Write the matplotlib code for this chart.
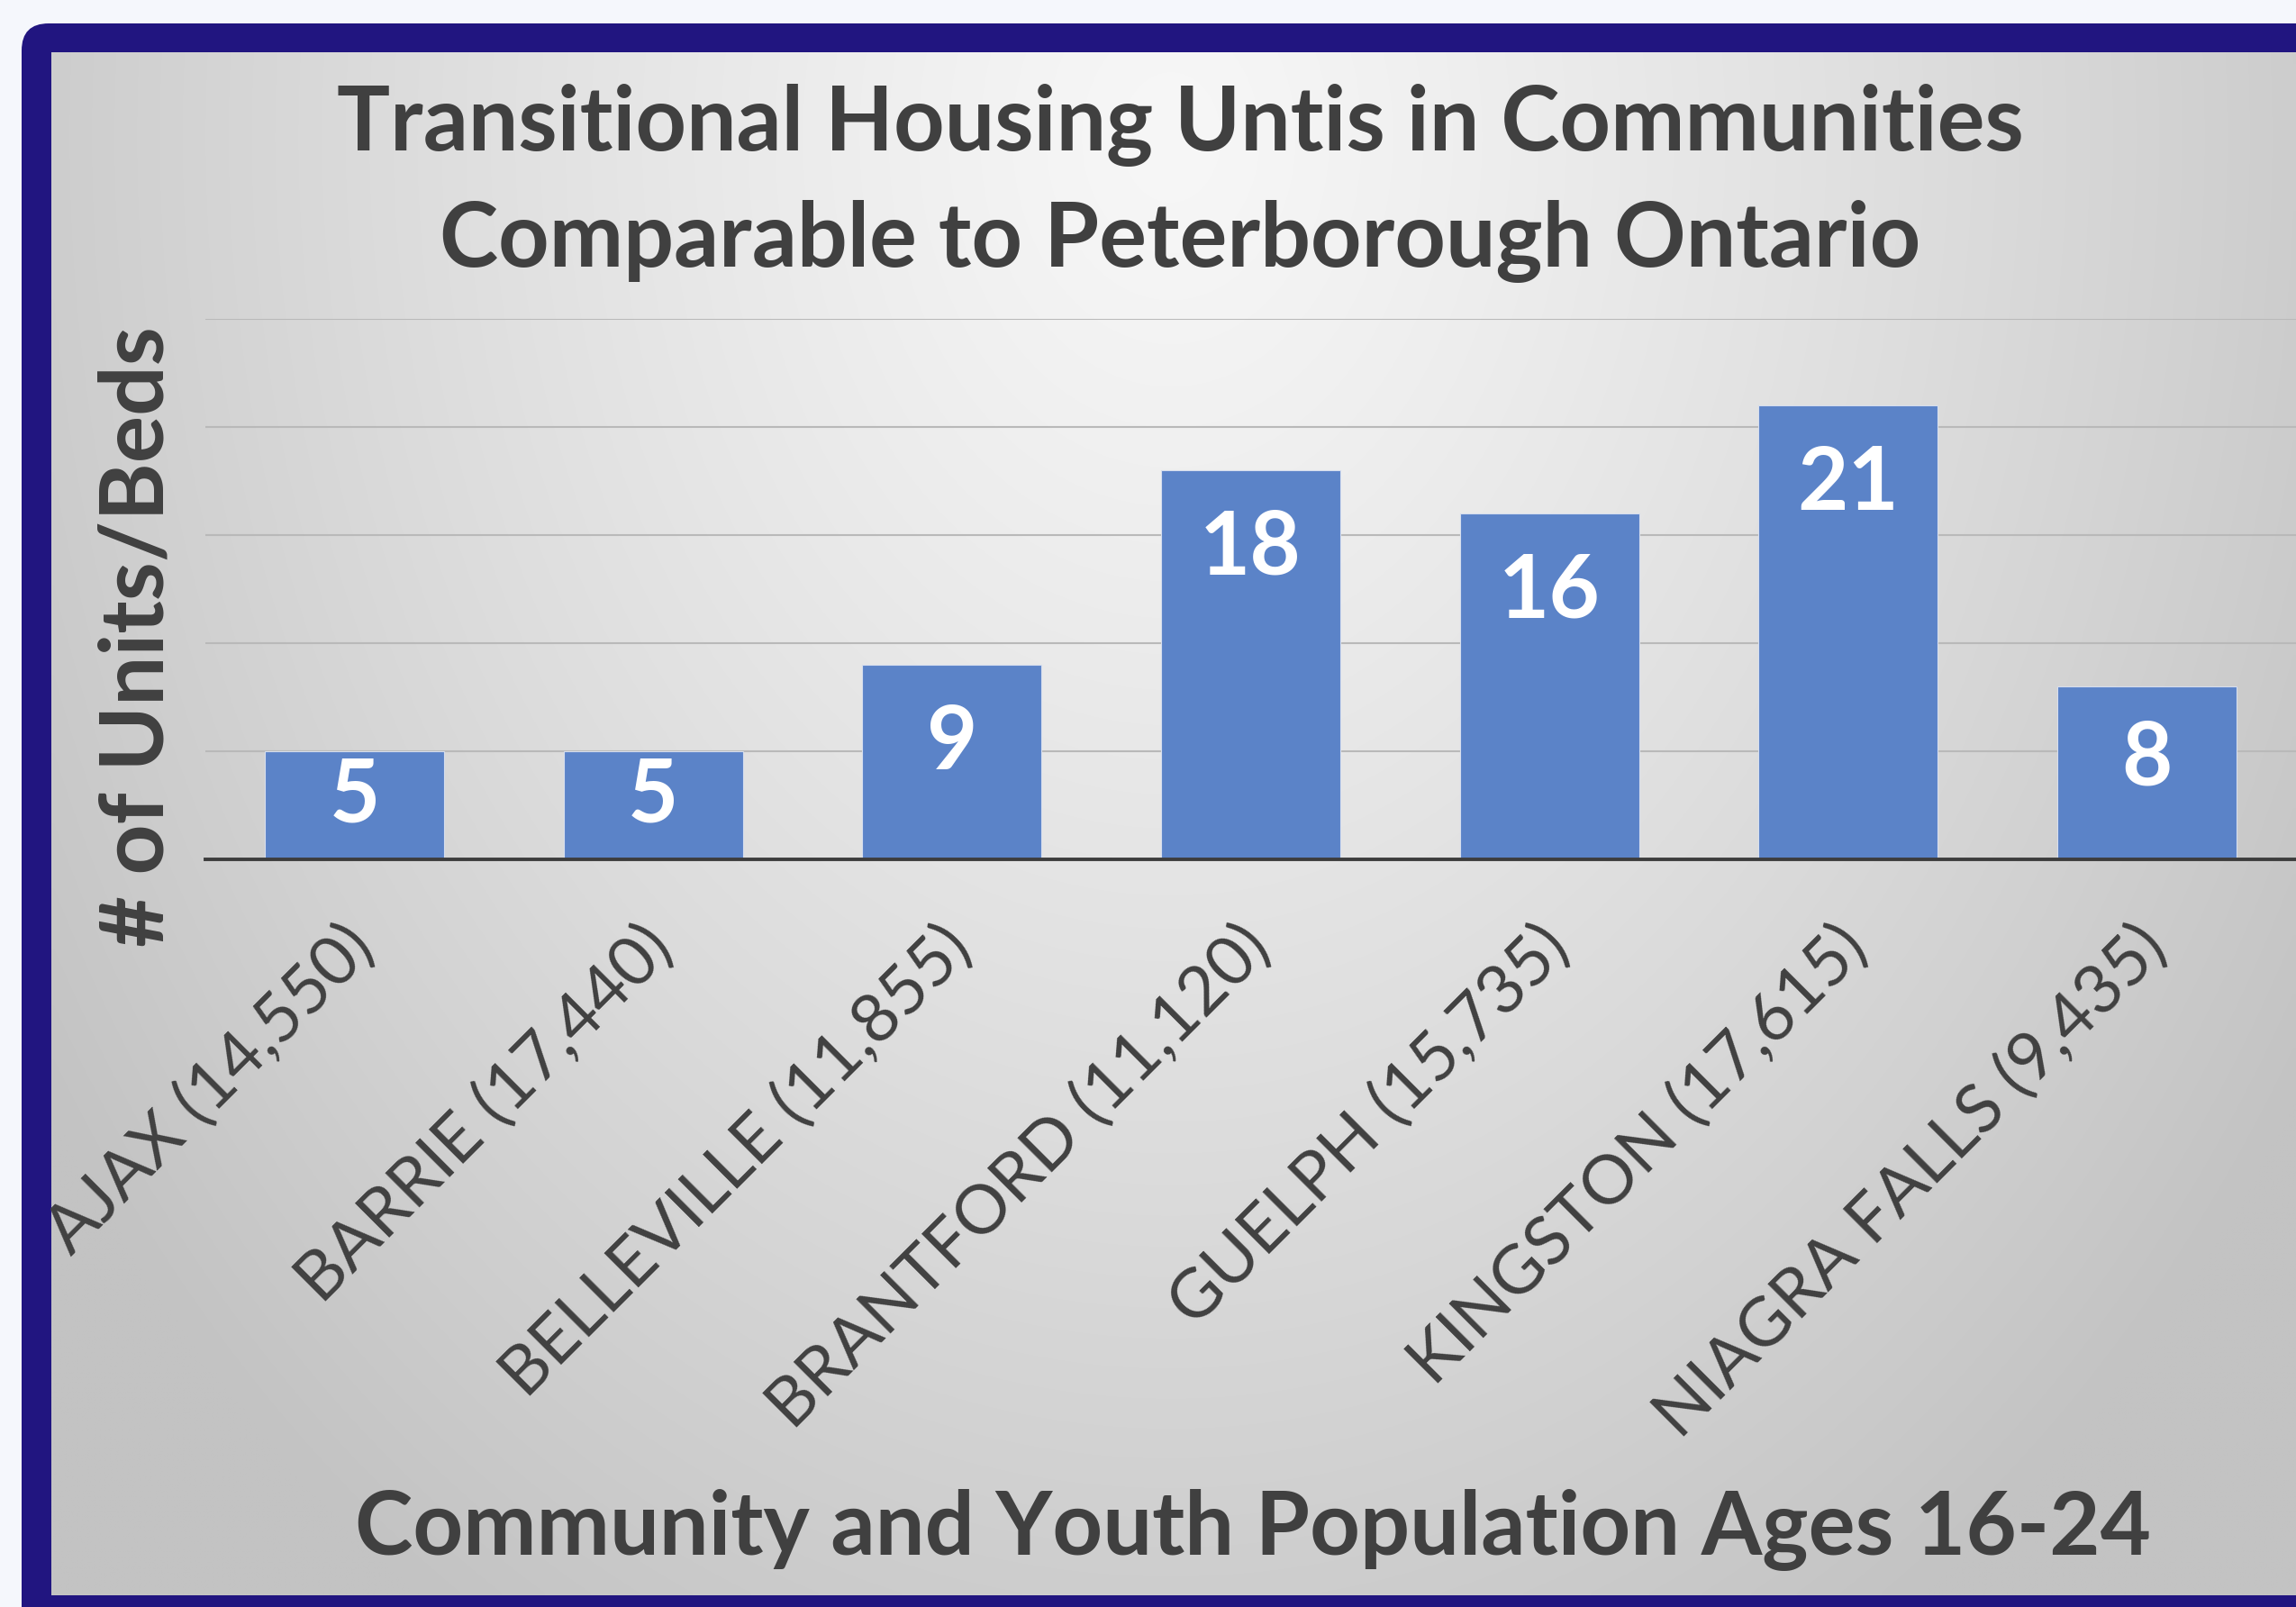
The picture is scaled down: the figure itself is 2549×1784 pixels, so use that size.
import numpy as np
import matplotlib
matplotlib.use('Agg')
import matplotlib.pyplot as plt
from matplotlib.patches import FancyBboxPatch
from matplotlib.transforms import ScaledTranslation

categories = ["AJAX (14,550)", "BARRIE (17,440)", "BELLEVILLE (11,855)",
              "BRANTFORD (11,120)", "GUELPH (15,735)", "KINGSTON (17,615)",
              "NIAGRA FALLS (9,435)"]
units = [5, 5, 9, 18, 16, 21, 8]
y_ticks = [0, 5, 10, 15, 20, 25]
title_lines = ["Transitional Housing Untis in Communities",
               "Comparable to Peterborough Ontario"]
y_label = "# of Units/Beds"
x_label = "Community and Youth Population Ages 16-24"

W, H, DPI = 2549, 1784, 100
TXT = '#404040'
FONT = 'Lato'
fig = plt.figure(figsize=(W / DPI, H / DPI), dpi=DPI, facecolor='#f5f7fc')


def rect(x0, y0, x1, y1):
    return [x0 / W, 1 - y1 / H, (x1 - x0) / W, (y1 - y0) / H]


# background frame and gradient panel
bg = fig.add_axes([0, 0, 1, 1])
bg.axis('off')
gx = np.linspace(57, W, 400)
gy = np.linspace(58, 1771, 300)
X, Y = np.meshgrid(gx, gy)
t = np.sqrt(((X - 1300) / 1300) ** 2 + ((Y - 150) / 1700) ** 2)
g = np.clip(247 - 44 * t ** 1.2, 195, 250) / 255
frame = FancyBboxPatch((24, 26), 2700, 1900,
                       boxstyle="round,pad=0,rounding_size=30",
                       fc='#211580', ec='none', zorder=0)
bg.add_patch(frame)
bg.imshow(np.dstack([g, g, g]), extent=(57, W, 1771, 58), aspect='auto',
          zorder=1, interpolation='bilinear')
bg.set_xlim(0, W)
bg.set_ylim(H, 0)

# main axes
ax = fig.add_axes(rect(228, 354, 2549, 954))
ax.patch.set_alpha(0)
x = np.arange(len(categories))
ax.bar(x, units, width=0.6, color='#5B83C8', edgecolor='#d6deee',
       linewidth=0.8, zorder=3)
ax.set_xlim(-0.5, len(categories) - 0.5)
ax.set_ylim(y_ticks[0], y_ticks[-1])
ax.set_yticks(y_ticks)
ax.yaxis.grid(True, color='#b9b9b9', lw=1.5, zorder=0)
ax.set_axisbelow(True)
ax.tick_params(axis='y', length=0, labelleft=False)
for s in ['top', 'right', 'left']:
    ax.spines[s].set_visible(False)
ax.spines['bottom'].set_color('#3d3d3d')
ax.spines['bottom'].set_linewidth(2.8)
ax.spines['bottom'].set_zorder(5)
ax.set_xticks(x)
ax.set_xticklabels(categories, rotation=45, ha='right', va='center',
                   rotation_mode='anchor', fontsize=54.5, color=TXT,
                   fontfamily=FONT)
ax.tick_params(axis='x', length=0, pad=62)
shift = ScaledTranslation(10 / DPI, 0, fig.dpi_scale_trans)
for lab in ax.get_xticklabels():
    lab.set_transform(lab.get_transform() + shift)

# value labels inside bar ends
fig.canvas.draw()
px_per_unit = (ax.transData.transform((0, 1))[1] - ax.transData.transform((0, 0))[1])
for xi, v in zip(x, units):
    off_px = min(87, 0.42 * v * px_per_unit)
    ax.annotate(str(v), (xi, v), xytext=(0, -off_px * 72 / DPI),
                textcoords='offset points', ha='center', va='center',
                color='white', fontsize=70, fontweight='bold',
                fontfamily=FONT, zorder=6)

# titles
fig.text(0.514, 1 - 167 / H, title_lines[0], ha='center', va='baseline',
         fontsize=71, fontweight='bold', color=TXT, fontfamily=FONT)
fig.text(0.514, 1 - 296 / H, title_lines[1], ha='center', va='baseline',
         fontsize=71, fontweight='bold', color=TXT, fontfamily=FONT)
fig.text(182 / W, 1 - 707 / H, y_label, rotation=90, rotation_mode='anchor',
         ha='center', va='baseline', fontsize=70.5, fontweight='bold',
         color=TXT, fontfamily=FONT)
fig.text(1391 / W, 1 - 1726 / H, x_label, ha='center', va='baseline',
         fontsize=70, fontweight='bold', color=TXT, fontfamily=FONT)

fig.savefig('out.png', dpi=DPI, facecolor=fig.get_facecolor())
